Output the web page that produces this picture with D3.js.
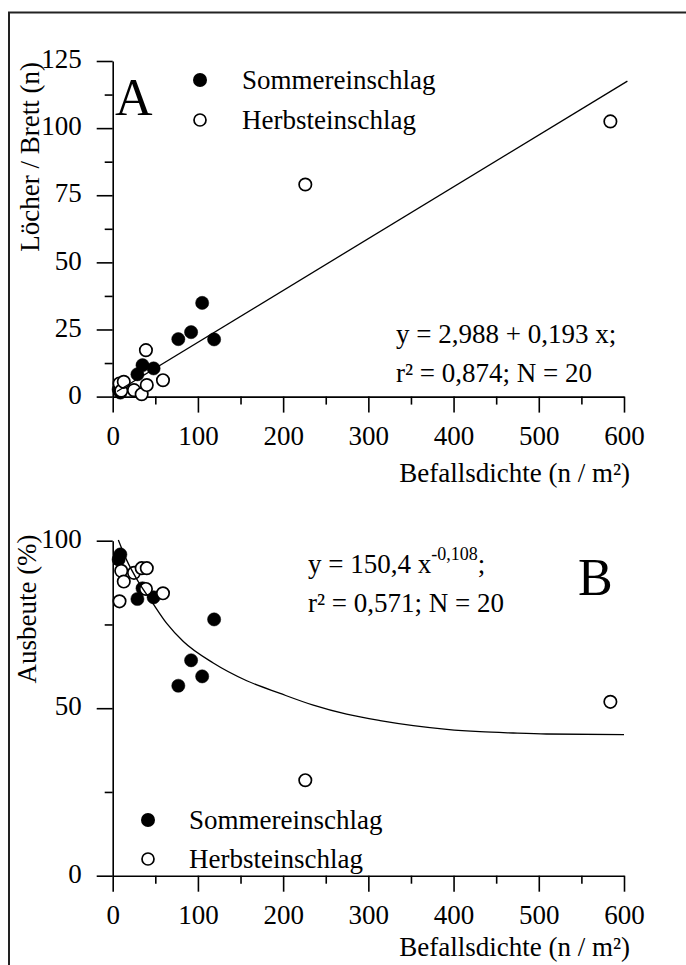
<!DOCTYPE html>
<html><head><meta charset="utf-8">
<script src="https://cdn.jsdelivr.net/npm/d3@7"></script>
<style>
body{margin:0;background:#fff}
svg{display:block}
text{font-family:"Liberation Serif","Times New Roman",serif;fill:#000}
</style>
</head><body><div id="chart"></div>
<script>
// ---- data ----
const summerX      = [7, 9, 29, 35, 48, 77, 92, 105, 119];
const summerHoles  = [2.7, 1.5, 8.3, 11.7, 10.5, 21.4, 24.0, 34.9, 21.3];
const summerYield  = [94.4, 95.9, 82.6, 85.8, 83.1, 56.7, 64.3, 59.5, 76.5];
const autumnX      = [8, 10, 13, 25, 34, 39, 40, 59, 226, 584];
const autumnHoles  = [4.9, 2.2, 5.5, 2.4, 0.9, 17.3, 4.3, 6.1, 79, 102.5];
const autumnYield  = [81.9, 91.0, 87.8, 90.4, 91.8, 85.6, 91.8, 84.3, 28.5, 51.9];
const fitAX = [5, 604];
const fitAY = [1.9, 117.5];
const fitBX = [6.6, 16.4, 30, 45.8, 63.4, 82.9, 118, 157.3, 196.5, 235.4, 274.5, 313.8, 352.8, 392, 431, 470, 509, 600];
const fitBY = [100.2, 94.2, 87.8, 81.8, 75.3, 69.9, 63.5, 58.2, 54.4, 50.9, 48.2, 46.3, 44.8, 43.7, 43.0, 42.6, 42.3, 42.1];
const xMajor = [0, 100, 200, 300, 400, 500, 600];
const xMinor = [50, 150, 250, 350, 450, 550];
const yAMajor = [0, 25, 50, 75, 100, 125];
const yAMinor = [12.5, 37.5, 62.5, 87.5, 112.5];
const yBMajor = [0, 50, 100];
const yBMinor = [25, 75];
const legendLabels = ["Sommereinschlag", "Herbsteinschlag"];
const xTitle = "Befallsdichte (n / m²)";
const yATitle = "Löcher / Brett (n)";
const yBTitle = "Ausbeute (%)";

const FONT = '"Liberation Serif","Times New Roman",serif';
const FS = 27;

const svg = d3.select('#chart').append('svg').attr('width', 686).attr('height', 965);
svg.append('rect').attr('x', 0).attr('y', 0).attr('width', 686).attr('height', 965).attr('fill', '#fff');
svg.append('rect').attr('x', 9).attr('y', 12.5).attr('width', 720).attr('height', 1000)
  .attr('fill', 'none').attr('stroke', '#222').attr('stroke-width', 2);

const x = d3.scaleLinear().domain([0, 600]).range([112.7, 624]);
const yA = d3.scaleLinear().domain([0, 125]).range([396.6, 61]);
const yB = d3.scaleLinear().domain([0, 100]).range([875.7, 540.7]);

function drawAxes(y, yMajor, yMinor) {
  const y0 = y(0);
  const gx = svg.append('g').attr('transform', `translate(0,${y0})`)
    .call(d3.axisBottom(x).tickValues(xMajor).tickSize(16).tickSizeOuter(0));
  const gxm = svg.append('g').attr('transform', `translate(0,${y0})`)
    .call(d3.axisBottom(x).tickValues(xMinor).tickSize(8).tickFormat(''));
  gxm.select('.domain').remove();
  const gy = svg.append('g').attr('transform', `translate(${x(0)},0)`)
    .call(d3.axisLeft(y).tickValues(yMajor).tickSize(16).tickSizeOuter(0));
  const gym = svg.append('g').attr('transform', `translate(${x(0)},0)`)
    .call(d3.axisLeft(y).tickValues(yMinor).tickSize(8).tickFormat(''));
  gym.select('.domain').remove();
  [gx, gxm, gy, gym].forEach(g => {
    g.attr('font-family', FONT).attr('font-size', FS);
    g.selectAll('path,line').attr('stroke', '#000').attr('stroke-width', 1.6);
  });
  gx.selectAll('text').attr('y', 48.5).attr('dy', 0).attr('fill', '#000');
  gy.selectAll('text').attr('x', -31).attr('dy', '0.25em').attr('fill', '#000');
}

drawAxes(yA, yAMajor, yAMinor);
drawAxes(yB, yBMajor, yBMinor);

function txt(s, tx, ty, size, anchor) {
  return svg.append('text').attr('x', tx).attr('y', ty).attr('font-size', size || FS)
    .attr('text-anchor', anchor || 'start').text(s);
}

// axis titles
txt(xTitle, 630, 482, FS, 'end');
txt(xTitle, 630, 956, FS, 'end');
svg.append('text').attr('transform', 'translate(39,62) rotate(-90)').attr('text-anchor', 'end')
  .attr('font-size', FS).text(yATitle);
svg.append('text').attr('transform', 'translate(36,609) rotate(-90)').attr('text-anchor', 'middle')
  .attr('font-size', FS).text(yBTitle);

// panel letters
txt('A', 115, 115, 52);
txt('B', 578, 595, 52);

// points
function points(xs, ys, y, filled) {
  svg.append('g').selectAll('circle').data(xs.map((d, i) => [d, ys[i]])).join('circle')
    .attr('cx', d => x(d[0])).attr('cy', d => y(d[1]))
    .attr('r', filled ? 6.6 : 6.2)
    .attr('fill', filled ? '#000' : '#fff')
    .attr('stroke', '#000').attr('stroke-width', filled ? 0.5 : 1.7);
}
points(summerX, summerHoles, yA, true);
points(autumnX, autumnHoles, yA, false);
points(summerX, summerYield, yB, true);
points(autumnX, autumnYield, yB, false);

// fit lines
const lineA = d3.line().x(d => x(d[0])).y(d => yA(d[1]));
svg.append('path').attr('d', lineA(fitAX.map((d, i) => [d, fitAY[i]])))
  .attr('fill', 'none').attr('stroke', '#000').attr('stroke-width', 1.3);
const lineB = d3.line().x(d => x(d[0])).y(d => yB(d[1])).curve(d3.curveMonotoneX);
svg.append('path').attr('d', lineB(fitBX.map((d, i) => [d, fitBY[i]])))
  .attr('fill', 'none').attr('stroke', '#000').attr('stroke-width', 1.3);

// legends
function legend(cx, cy1, cy2, tx) {
  svg.append('circle').attr('cx', cx).attr('cy', cy1).attr('r', 7).attr('fill', '#000');
  svg.append('circle').attr('cx', cx).attr('cy', cy2).attr('r', 6).attr('fill', '#fff')
    .attr('stroke', '#000').attr('stroke-width', 1.7);
  txt(legendLabels[0], tx, cy1 + 9);
  txt(legendLabels[1], tx, cy2 + 9);
}
legend(200, 80, 120, 242);
legend(148, 820, 859, 189);

// equations
txt('y = 2,988 + 0,193 x;', 396, 343);
txt('r² = 0,874; N = 20', 396, 382);
const eq = txt('y = 150,4 x', 308, 573);
eq.append('tspan').attr('font-size', 18).attr('dy', -13).text('-0,108');
eq.append('tspan').attr('font-size', FS).attr('dy', 13).text(';');
txt('r² = 0,571; N = 20', 308, 612);
</script>
</body></html>
